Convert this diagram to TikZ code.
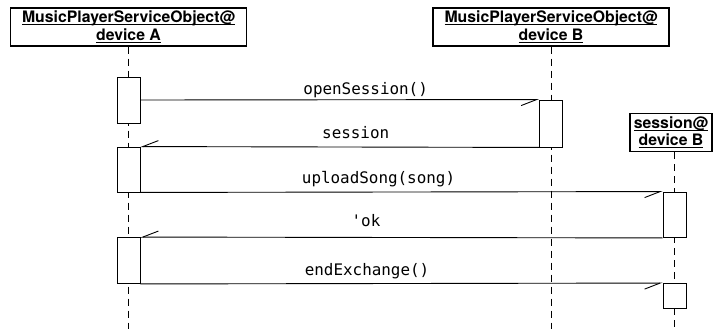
\documentclass[tikz,border=0pt]{standalone}
\usepackage{fontspec}
\usetikzlibrary{arrows.meta,backgrounds}

\newfontfamily\headfont{TeX Gyre Heros}
\newfontfamily\msgfont{DejaVu Sans Mono}
\newsavebox\ulsave
\newcommand\ulin[1]{\sbox\ulsave{#1}\rlap{\rule[-2.3pt]{\wd\ulsave}{1pt}}\usebox\ulsave}

\tikzset{
    objbox/.style={draw, line width=1.2pt, inner sep=0pt, align=center,
        font=\headfont\bfseries\fontsize{15.8}{17.5}\selectfont},
    actbox/.style={draw, fill=white, line width=0.9pt, minimum width=23pt, inner sep=0pt},
    lifeline/.style={line width=0.9pt, dash pattern=on 7pt off 5pt},
    msg/.style={line width=0.9pt, -{Straight Barb[harpoon, swap, length=15.5pt, width=12pt]}},
    lbl/.style={font=\msgfont\fontsize{15.9}{18}\selectfont, anchor=base, yshift=8.5pt, inner sep=0pt}
}

\begin{document}
\begin{tikzpicture}[x=1pt, y=-1pt]
    \useasboundingbox (0,0) rectangle (713,329);
    \coordinate (bot) at (0,329);

    \node[objbox, minimum width=236pt, minimum height=38pt] (objA) at (128.5,27)
        {\ulin{MusicPlayerServiceObject@}\\\ulin{device A}};
    \node[objbox, minimum width=236pt, minimum height=38pt] (objB) at (551,27)
        {\ulin{MusicPlayerServiceObject@}\\\ulin{device B}};
    \node[objbox, minimum width=82pt, minimum height=38pt] (objS) at (671,132.5)
        {\ulin{session@}\\\ulin{device B}};

    \node[actbox, minimum height=46pt] (a1) at (128.5,100) {};
    \node[actbox, minimum height=47pt] (b1) at (551,123.5) {};
    \node[actbox, minimum height=45pt] (a2) at (128.5,169.5) {};
    \node[actbox, minimum height=45.5pt] (s1) at (674.5,214.75) {};
    \node[actbox, minimum height=46pt] (a3) at (128.5,260.5) {};
    \node[actbox, minimum height=25pt] (s2) at (674.5,296) {};

    \begin{scope}[on background layer]
        \draw[lifeline] (objA.south) -- (objA.south |- bot);
        \draw[lifeline] (objB.south) -- (objB.south |- bot);
        \draw[lifeline] (s1 |- objS.south) -- (s1 |- bot);
    \end{scope}

    \draw[msg] (a1.east) -- node[lbl, pos=0.565, yshift=-3.5pt] {openSession()} (b1.north west);
    \draw[msg] (b1.south west) -- node[lbl, pos=0.46] {session} (a2.north east);
    \draw[msg] (a2.south east) -- node[lbl, pos=0.456] {uploadSong(song)} (s1.north west);
    \draw[msg] (s1.south west) -- node[lbl, pos=0.568, yshift=2pt] {'ok} (a3.north east);
    \draw[msg] (a3.south east) -- node[lbl, pos=0.434] {endExchange()} (s2.north west);

\end{tikzpicture}
\end{document}
